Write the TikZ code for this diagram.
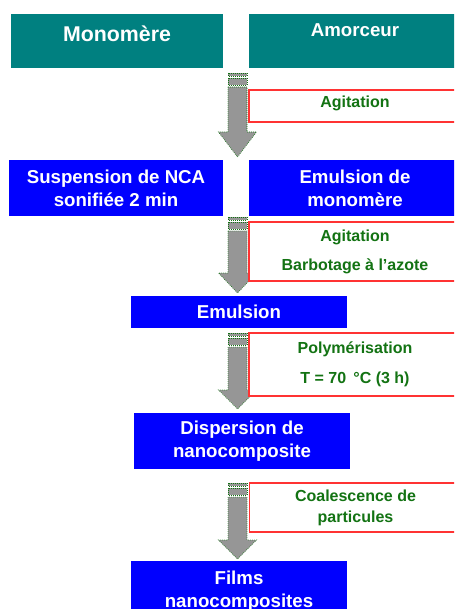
\documentclass[tikz,border=0pt]{standalone}
\usepackage{fontspec}
\setmainfont{Liberation Sans}
\definecolor{BoxTeal}{HTML}{008080}
\definecolor{BoxBlue}{HTML}{0000FF}
\definecolor{StepRed}{HTML}{FF3333}
\definecolor{StepGreen}{HTML}{137313}
\definecolor{ArrowGrey}{HTML}{969696}

% #1 top of the stripes, #2 top of the head, #3 tip
\newcommand{\flowarrow}[3]{%
  \draw[arrowpart] (228,#1) rectangle (247,#1+3);
  \draw[arrowpart] (228,#1+5) rectangle (247,#1+12);
  \draw[arrowpart] (228,#1+14) -- (228,#2) -- (218.5,#2) -- (237.5,#3)
    -- (256.5,#2) -- (247,#2) -- (247,#1+14) -- cycle;
}

\begin{document}
\begin{tikzpicture}[x=0.75pt,y=-0.75pt,
    tealbox/.style={fill=BoxTeal, text=white, inner sep=0pt,
      minimum width=159pt, minimum height=40.5pt},
    bluebox/.style={fill=BoxBlue, text=white, inner sep=0pt, align=center,
      font=\bfseries\fontsize{14}{17.25}\selectfont},
    stepbox/.style={draw=StepRed, line width=1pt, fill=white, text=StepGreen,
      inner sep=0pt, align=center, minimum width=159pt,
      font=\bfseries\fontsize{12}{15.75}\selectfont},
    arrowpart/.style={fill=ArrowGrey, draw=StepGreen, densely dotted, line width=0.5pt}]
    \clip (0,0) rectangle (454,609);

    \node[tealbox, font=\bfseries\fontsize{16}{19}\selectfont, text depth=11pt]
      (mono) at (117,41) {Monomère};
    \node[tealbox, font=\bfseries\fontsize{14}{17}\selectfont, text depth=16.5pt]
      (amorc) at (355,41) {Amorceur};

    \flowarrow{73}{132}{157}
    \node[stepbox, minimum height=24pt, text height=8.6pt, text depth=6pt]
      (agit) at (355,106) {Agitation};

    \node[bluebox, minimum width=160.5pt, minimum height=42pt]
      (susp) at (116,188) {Suspension de NCA\\sonifiée 2 min};
    \node[bluebox, minimum width=159pt, minimum height=42pt]
      (emulmono) at (355,188) {Emulsion de\\monomère};

    \flowarrow{217}{273}{293}
    \node[stepbox, minimum height=44.25pt]
      (barbo) at (355,251.5) {Agitation\\[6pt]Barbotage à l’azote};

    \node[bluebox, minimum width=162pt, minimum height=24pt]
      (emul) at (239,312) {Emulsion};

    \flowarrow{333}{390}{409}
    \node[stepbox, minimum height=47.25pt]
      (polym) at (355,364.5) {Polymérisation\\[6.5pt]T = 70 \,°C (3 h)};

    \node[bluebox, minimum width=162pt, minimum height=42pt]
      (disp) at (242,441) {Dispersion de\\nanocomposite};

    \flowarrow{483}{540}{559}
    \node[stepbox, minimum height=36.75pt]
      (coal) at (355.5,507.5) {Coalescence de\\particules};

    \node[bluebox, minimum width=162pt, minimum height=45pt]
      (films) at (239,591) {Films\\nanocomposites};
\end{tikzpicture}
\end{document}
